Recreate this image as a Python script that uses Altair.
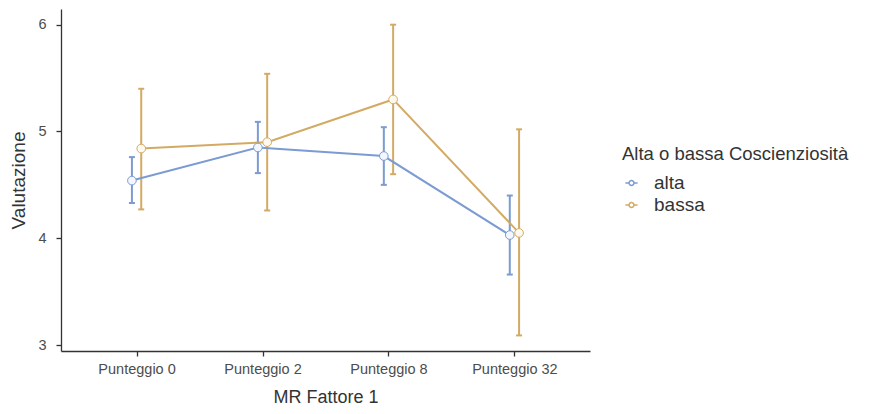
import altair as alt
import pandas as pd

categories = ["Punteggio 0", "Punteggio 2", "Punteggio 8", "Punteggio 32"]
groups = ["alta", "bassa"]
alta_mean = [4.54, 4.85, 4.77, 4.03]
alta_lo = [4.33, 4.61, 4.50, 3.66]
alta_hi = [4.76, 5.09, 5.04, 4.40]
bassa_mean = [4.84, 4.90, 5.30, 4.05]
bassa_lo = [4.27, 4.26, 4.60, 3.09]
bassa_hi = [5.40, 5.54, 6.00, 5.02]

rows = []
for g, m, lo, hi in [("alta", alta_mean, alta_lo, alta_hi), ("bassa", bassa_mean, bassa_lo, bassa_hi)]:
    for c, a, b, h in zip(categories, m, lo, hi):
        rows.append({"cat": c, "group": g, "mean": a, "lo": b, "hi": h})
df = pd.DataFrame(rows)

line_colors = ["#7b9bd2", "#d3aa64"]
fill_colors = ["#f3f6fc", "#fdf9ee"]

FONT = "Liberation Sans"

x_enc = alt.X("cat:N", sort=categories, title="MR Fattore 1",
              scale=alt.Scale(type="point", padding=0.6),
              axis=alt.Axis(labelAngle=0, labelFontSize=14.5, labelColor="#4d4d4d",
                            titleFontSize=18, titleColor="#333333", titleFontWeight="normal",
                            tickSize=5, labelPadding=6, titlePadding=13,
                            domainColor="#333333", tickColor="#333333", domainWidth=1.3, tickWidth=1.3))
xoff = alt.XOffset("group:N", scale=alt.Scale(domain=groups, range=[-9.3, 9.3]))
y_scale = alt.Scale(domain=[2.944, 6.147], nice=False, zero=False)
y_axis = alt.Axis(values=[3, 4, 5, 6], format="d", labelFontSize=14.5, labelColor="#4d4d4d",
                  titleFontSize=19, titleColor="#333333", titleFontWeight="normal",
                  tickSize=5, labelPadding=10, titlePadding=9, grid=False,
                  domainColor="#333333", tickColor="#333333", domainWidth=1.3, tickWidth=1.3)

color = alt.Color("group:N", scale=alt.Scale(domain=groups, range=line_colors),
                  title="Alta o bassa Coscienziosità",
                  legend=alt.Legend(orient="none", legendX=561, legendY=136,
                                    titleFontSize=18.5, labelFontSize=19, titleLimit=400,
                                    titleFontWeight="normal", titleColor="#333333",
                                    labelColor="#333333", titlePadding=10,
                                    symbolType="M-1,0L-0.4,0M0.4,0L1,0M-0.4,0A0.4,0.4,0,1,1,0.4,0A0.4,0.4,0,1,1,-0.4,0Z",
                                    symbolSize=150, symbolStrokeWidth=1.5,
                                    symbolFillColor="#ffffff", labelOffset=13))

base = alt.Chart(df)
CAP = "M-1,0L1,0"

rules = base.mark_rule(strokeWidth=2).encode(
    x=x_enc, xOffset=xoff,
    y=alt.Y("lo:Q", scale=y_scale, axis=y_axis, title="Valutazione"),
    y2="hi:Q", color=color)

cap_lo = base.mark_point(shape=CAP, size=36, strokeWidth=2, filled=False, opacity=1).encode(
    x=x_enc, xOffset=xoff, y=alt.Y("lo:Q", scale=y_scale), color=color)
cap_hi = base.mark_point(shape=CAP, size=36, strokeWidth=2, filled=False, opacity=1).encode(
    x=x_enc, xOffset=xoff, y=alt.Y("hi:Q", scale=y_scale), color=color)

lines = base.mark_line(strokeWidth=2).encode(
    x=x_enc, xOffset=xoff, y=alt.Y("mean:Q", scale=y_scale), color=color, detail="group:N")

points = base.mark_point(filled=False, size=75, strokeWidth=1, opacity=1).encode(
    x=x_enc, xOffset=xoff, y=alt.Y("mean:Q", scale=y_scale),
    color=color,
    fill=alt.Fill("group:N", scale=alt.Scale(domain=groups, range=fill_colors), legend=None))

chart = alt.layer(rules, cap_lo, cap_hi, lines, points).resolve_scale(
    fill="independent"
).properties(
    width=529, height=342,
    autosize=alt.AutoSizeParams(type="none"),
    padding={"left": 53, "top": 1, "right": 270, "bottom": 55},
).configure(font=FONT).configure_view(strokeOpacity=0, strokeWidth=0)

chart.save("out.html", embed_options={"renderer": "svg", "actions": False})
